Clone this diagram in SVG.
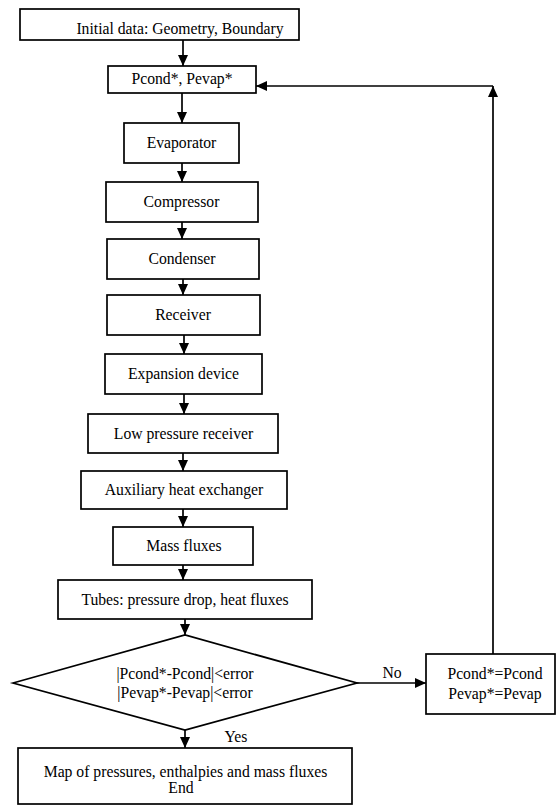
<svg xmlns="http://www.w3.org/2000/svg" width="556" height="805" viewBox="0 0 556 805">
<style>
.box{fill:#fff;stroke:#000;stroke-width:1.7}
.t{font-family:'Liberation Serif','Times New Roman',Times,Tinos,'Nimbus Roman','DejaVu Serif',serif;font-size:15.7px;fill:#000;text-anchor:middle}
.c{fill:none;stroke:#000;stroke-width:1.7}
</style>
<defs>
<marker id="ah" markerUnits="userSpaceOnUse" markerWidth="12" markerHeight="11" refX="11" refY="5.5" orient="auto">
<path d="M0,0.5 L11,5.5 L0,10.5 z" fill="#000"/>
</marker>
</defs>
<rect width="556" height="805" fill="#fff"/>
<g id="connectors">
<line class="c" x1="183" y1="40" x2="183" y2="66" marker-end="url(#ah)"/>
<line class="c" x1="182" y1="93" x2="182" y2="123" marker-end="url(#ah)"/>
<line class="c" x1="182" y1="163" x2="182" y2="182" marker-end="url(#ah)"/>
<line class="c" x1="182" y1="222" x2="182" y2="239" marker-end="url(#ah)"/>
<line class="c" x1="183" y1="279" x2="183" y2="295" marker-end="url(#ah)"/>
<line class="c" x1="184" y1="335" x2="184" y2="354" marker-end="url(#ah)"/>
<line class="c" x1="184" y1="394" x2="184" y2="414" marker-end="url(#ah)"/>
<line class="c" x1="183" y1="453" x2="183" y2="471" marker-end="url(#ah)"/>
<line class="c" x1="183" y1="509" x2="183" y2="527" marker-end="url(#ah)"/>
<line class="c" x1="183" y1="565" x2="183" y2="580" marker-end="url(#ah)"/>
<line class="c" x1="185" y1="619" x2="185" y2="635" marker-end="url(#ah)"/>
<line class="c" x1="185" y1="730" x2="185" y2="748" marker-end="url(#ah)"/>
<line class="c" x1="357" y1="683" x2="426" y2="683" marker-end="url(#ah)"/>
<line class="c" x1="493" y1="654" x2="493" y2="86" marker-end="url(#ah)"/>
<line class="c" x1="493" y1="86" x2="256" y2="86" marker-end="url(#ah)"/>
<text class="t" x="392" y="678">No</text>
<text class="t" x="236" y="742">Yes</text>
</g>
<g id="initial"><rect class="box" x="20" y="9" width="279" height="31"/><text class="t" x="180" y="34">Initial data: Geometry, Boundary</text></g>
<g id="pstar"><rect class="box" x="108" y="66" width="148" height="27"/><text class="t" x="182" y="84">Pcond*, Pevap*</text></g>
<g id="evaporator"><rect class="box" x="124" y="123" width="115" height="40"/><text class="t" x="181.5" y="148">Evaporator</text></g>
<g id="compressor"><rect class="box" x="106" y="182" width="152" height="40"/><text class="t" x="181.5" y="207">Compressor</text></g>
<g id="condenser"><rect class="box" x="107" y="239" width="152" height="40"/><text class="t" x="182" y="264">Condenser</text></g>
<g id="receiver"><rect class="box" x="107" y="295" width="153" height="40"/><text class="t" x="183" y="320">Receiver</text></g>
<g id="expansion"><rect class="box" x="105" y="354" width="157" height="40"/><text class="t" x="183.5" y="379">Expansion device</text></g>
<g id="lpreceiver"><rect class="box" x="88" y="414" width="190" height="39"/><text class="t" x="183.5" y="438.5">Low pressure receiver</text></g>
<g id="auxiliary"><rect class="box" x="81" y="471" width="206" height="38"/><text class="t" x="184" y="495">Auxiliary heat exchanger</text></g>
<g id="massfluxes"><rect class="box" x="113" y="527" width="140" height="38"/><text class="t" x="184" y="551">Mass fluxes</text></g>
<g id="tubes"><rect class="box" x="58" y="580" width="254" height="39"/><text class="t" x="185" y="604.5">Tubes: pressure drop, heat fluxes</text></g>
<g id="decision"><polygon class="box" points="13,683 185,635 357,683 185,730"/><text class="t" x="185" y="679">|Pcond*-Pcond|&lt;error</text><text class="t" x="185" y="698">|Pevap*-Pevap|&lt;error</text></g>
<g id="update"><rect class="box" x="426" y="654" width="129" height="60"/><text class="t" x="495" y="679">Pcond*=Pcond</text><text class="t" x="495" y="699">Pevap*=Pevap</text></g>
<g id="result"><rect class="box" x="18" y="748" width="334" height="56"/><text class="t" x="185.5" y="777">Map of pressures, enthalpies and mass fluxes</text><text class="t" x="181" y="793">End</text></g>
</svg>
